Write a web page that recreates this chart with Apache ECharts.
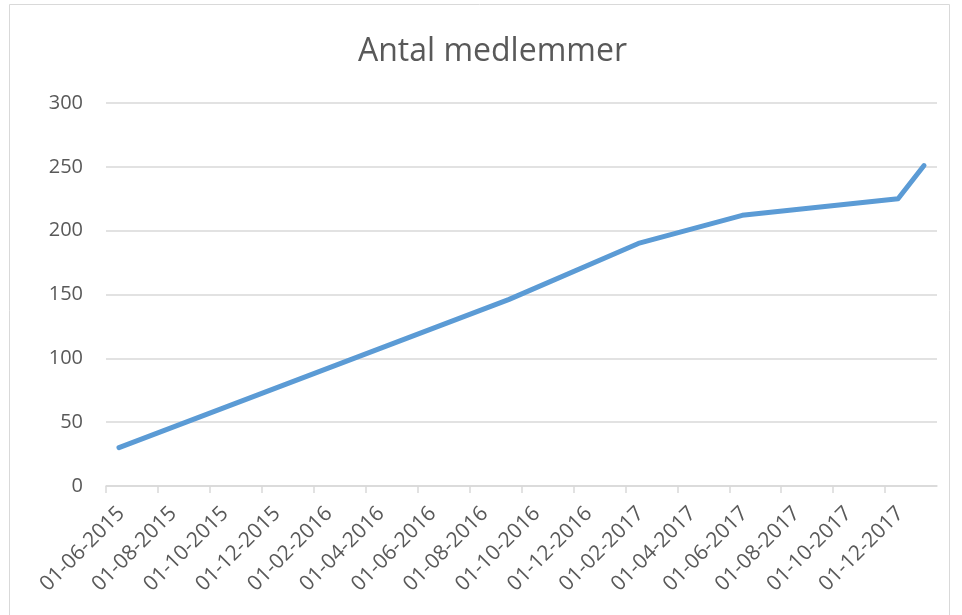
<!DOCTYPE html>
<html>
<head>
<meta charset="utf-8">
<script src="https://cdn.jsdelivr.net/npm/echarts@6/dist/echarts.min.js"></script>
<style>
  html, body { margin: 0; padding: 0; background: #fff; }
  #main { width: 962px; height: 615px; }
</style>
</head>
<body>
<div id="main"></div>
<script>
// data (monthly date axis, points sit mid-month)
const pointMonths = ['2015-06', '2016-09', '2017-02', '2017-06', '2017-12', '2018-01'];
const memberCounts = [30, 146, 190, 212, 225, 251];

// x tick labels, every 2 months from the axis start
const xTickLabels = [
  '01-06-2015', '01-08-2015', '01-10-2015', '01-12-2015',
  '01-02-2016', '01-04-2016', '01-06-2016', '01-08-2016',
  '01-10-2016', '01-12-2016', '01-02-2017', '01-04-2017',
  '01-06-2017', '01-08-2017', '01-10-2017', '01-12-2017', '01-02-2018'
];
const yTicks = [0, 50, 100, 150, 200, 250, 300];

// month offset from june 2015, centred in the month slot
const toSlot = (s) => {
  const [y, m] = s.split('-').map(Number);
  return (y - 2015) * 12 + (m - 6) + 0.5;
};

const chart = echarts.init(document.getElementById('main'));

const option = {
  animation: false,
  backgroundColor: '#fff',
  textStyle: { fontFamily: 'Open Sans' },
  graphic: [{
    type: 'rect',
    shape: { x: 9.5, y: 4.5, width: 940, height: 700 },
    style: { fill: 'none', stroke: '#d9d9d9', lineWidth: 1 },
    silent: true
  }],
  title: {
    text: 'Antal medlemmer',
    left: 353,
    top: 31,
    textStyle: { color: '#595959', fontSize: 32, fontWeight: 'normal', fontFamily: 'Open Sans' }
  },
  grid: { left: 106, right: 25, top: 103, bottom: 129 },
  xAxis: {
    type: 'value',
    min: 0,
    max: (xTickLabels.length - 1) * 2,
    interval: 2,
    axisLine: { lineStyle: { color: '#d9d9d9', width: 1.5 } },
    axisTick: { show: true, length: 7, lineStyle: { color: '#d9d9d9', width: 1.5 } },
    splitLine: { show: false },
    axisLabel: {
      rotate: 45,
      margin: 9,
      verticalAlign: 'top',
      padding: [11, 0, 0, 0],
      color: '#595959',
      fontSize: 21,
      showMaxLabel: false,
      formatter: (v) => xTickLabels[Math.round(v / 2)]
    }
  },
  yAxis: {
    type: 'value',
    min: yTicks[0],
    max: yTicks[yTicks.length - 1],
    interval: 50,
    axisLine: { show: false },
    axisTick: { show: false },
    splitLine: { lineStyle: { color: '#d9d9d9', width: 1.5 } },
    axisLabel: { color: '#595959', fontSize: 20, margin: 23 }
  },
  series: [{
    type: 'line',
    data: pointMonths.map((m, i) => [toSlot(m), memberCounts[i]]),
    showSymbol: false,
    lineStyle: { color: '#5b9bd5', width: 5, cap: 'round', join: 'round' }
  }]
};

chart.setOption(option);
</script>
</body>
</html>
